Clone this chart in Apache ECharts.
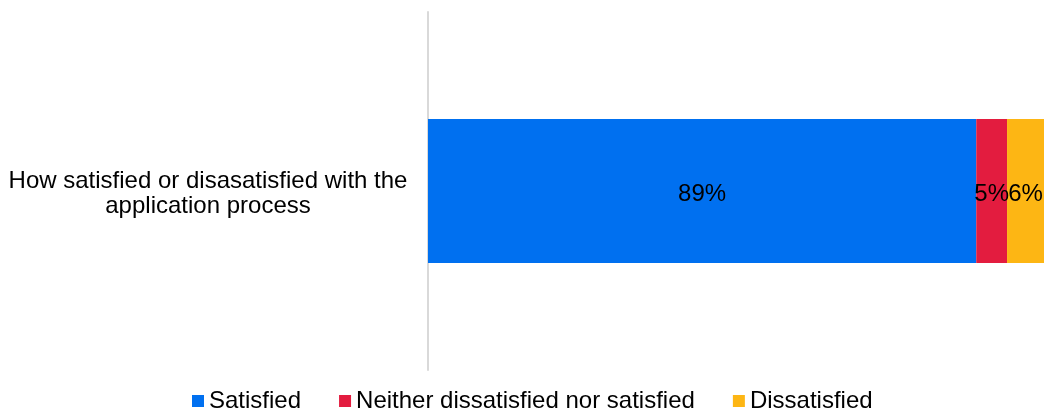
<!DOCTYPE html>
<html>
<head>
<meta charset="utf-8">
<script src="https://cdn.jsdelivr.net/npm/echarts@6/dist/echarts.min.js"></script>
<style>
  html, body { margin: 0; padding: 0; background: #ffffff; }
  #chart { width: 1044px; height: 412px; }
</style>
</head>
<body>
<div id="chart"></div>
<script>
// Survey question and response shares (percent)
var categories = ['How satisfied or disasatisfied with the\napplication process'];
var seriesNames = ['Satisfied', 'Neither dissatisfied nor satisfied', 'Dissatisfied'];
var satisfied = [89];
var neither = [5];
var dissatisfied = [6];
var colors = ['#0070F0', '#E31C3F', '#FDB614'];

var fontFamily = '"Liberation Sans", Arial, sans-serif';
var values = [satisfied, neither, dissatisfied];

var chart = echarts.init(document.getElementById('chart'), null, { renderer: 'canvas' });

var series = seriesNames.map(function (name, i) {
  return {
    name: name,
    type: 'bar',
    stack: 'total',
    data: values[i],
    barWidth: 144,
    itemStyle: { color: colors[i] },
    label: {
      show: true,
      position: 'inside',
      formatter: '{c}%',
      color: '#000000',
      fontFamily: fontFamily,
      fontSize: 24,
      offset: [0, 3]
    },
    emphasis: { disabled: true }
  };
});

chart.setOption({
  animation: false,
  backgroundColor: '#ffffff',
  color: colors,
  grid: { left: 428, right: 0, top: 12, bottom: 42, containLabel: false },
  legend: {
    top: 384,
    left: 187,
    itemWidth: 12,
    itemHeight: 12,
    itemGap: 38,
    icon: 'rect',
    textStyle: { fontFamily: fontFamily, fontSize: 24, color: '#000000' },
    data: seriesNames
  },
  xAxis: {
    type: 'value',
    min: 0,
    max: 100,
    show: false
  },
  yAxis: {
    type: 'category',
    data: categories,
    axisLine: { show: true, lineStyle: { color: '#D9D9D9', width: 2 } },
    axisTick: { show: false },
    axisLabel: {
      align: 'center',
      margin: 220,
      color: '#000000',
      // a thin spacer line above the wrapped question nudges the block down a little
      formatter: function (value) {
        return '{gap| }\n' + value.split('\n').map(function (line) {
          return '{q|' + line + '}';
        }).join('\n');
      },
      rich: {
        gap: { fontSize: 4, lineHeight: 6 },
        q: { fontFamily: fontFamily, fontSize: 24, lineHeight: 25, color: '#000000' }
      }
    }
  },
  series: series
});
</script>
</body>
</html>
